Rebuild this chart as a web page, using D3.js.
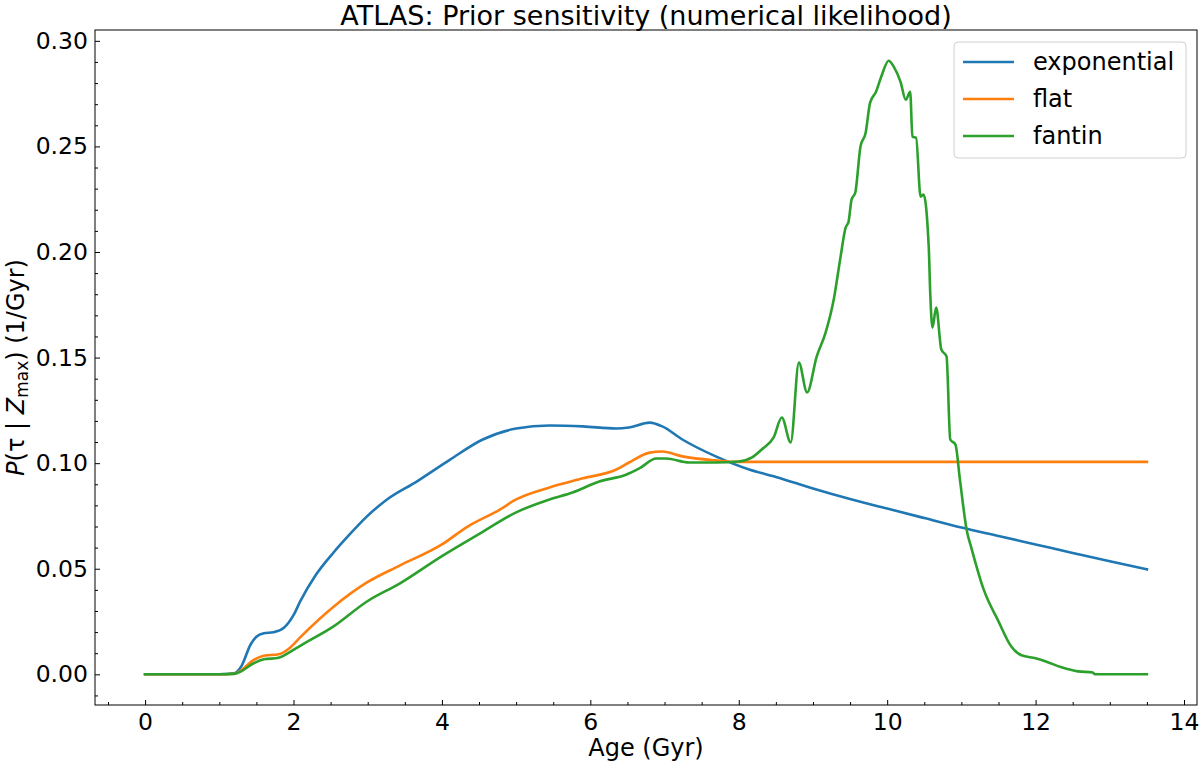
<!DOCTYPE html>
<html>
<head>
    <meta charset="UTF-8">
    <title>ATLAS: Prior sensitivity</title>
    <script src="https://d3js.org/d3.v7.min.js"></script>
    <style>
        body { margin: 0; padding: 0; background: #fff; }
        svg { display: block; }
        text { font-family: "DejaVu Sans", sans-serif; fill: #000; }
        .tick line { stroke: #000; stroke-width: 1; }
    </style>
</head>
<body>
<svg width="1200" height="768"></svg>
<script>
    // ---- data ----
    const expAge = [0, 1.0, 1.2, 1.3, 1.42, 1.5, 1.6, 1.73, 1.87, 2.0, 2.09, 2.3, 2.54, 2.75, 2.99, 3.26, 3.66, 4.11, 4.55, 5.0, 5.45, 5.9, 6.35, 6.52, 6.8, 6.97, 7.24, 7.69, 8.14, 8.5, 9.0, 9.5, 10.0, 10.5, 11.0, 11.5, 12.0, 12.5, 13.0, 13.5];
    const expP   = [0, 0, 0.0005, 0.004, 0.014, 0.0178, 0.0194, 0.0199, 0.022, 0.028, 0.0345, 0.047, 0.0577, 0.066, 0.0748, 0.0828, 0.0913, 0.1017, 0.1112, 0.1164, 0.1178, 0.1174, 0.1164, 0.1169, 0.1192, 0.1174, 0.1112, 0.1032, 0.097, 0.0935, 0.088, 0.083, 0.0785, 0.074, 0.0695, 0.0655, 0.0615, 0.0575, 0.0535, 0.0497];

    const flatAge = [0, 1.0, 1.2, 1.3, 1.45, 1.6, 1.8, 1.95, 2.09, 2.54, 2.99, 3.43, 4.0, 4.33, 4.78, 5.0, 5.45, 5.9, 6.35, 6.52, 6.8, 6.97, 7.24, 7.69, 8.0, 13.5];
    const flatP   = [0, 0, 0.0003, 0.002, 0.0065, 0.0088, 0.0095, 0.0125, 0.0175, 0.032, 0.0435, 0.0515, 0.0615, 0.0696, 0.078, 0.0828, 0.0885, 0.0928, 0.097, 0.1003, 0.105, 0.1055, 0.1032, 0.1013, 0.1006, 0.1006];

    const fantinAge = [0, 1.0, 1.2, 1.3, 1.45, 1.6, 1.8, 1.95, 2.09, 2.54, 2.99, 3.43, 4.0, 4.55, 5.0, 5.45, 5.76, 6.12, 6.48, 6.66, 6.89, 7.02, 7.33, 7.69, 8.0, 8.18, 8.31, 8.47, 8.58, 8.70, 8.81, 8.92, 9.05, 9.17, 9.28, 9.37, 9.44, 9.48, 9.52, 9.57, 9.64, 9.71, 9.77, 9.85, 9.92, 10.02, 10.09, 10.18, 10.25, 10.31, 10.34, 10.39, 10.45, 10.49, 10.56, 10.58, 10.61, 10.66, 10.73, 10.80, 10.85, 10.92, 10.98, 11.07, 11.14, 11.3, 11.5, 11.67, 11.81, 12.0, 12.13, 12.35, 12.57, 12.77, 12.8, 13.5];
    const fantinP   = [0, 0, 0.0002, 0.0015, 0.005, 0.0071, 0.0078, 0.0105, 0.0135, 0.0227, 0.0345, 0.043, 0.056, 0.0675, 0.0767, 0.0828, 0.0861, 0.0913, 0.0945, 0.0975, 0.1022, 0.1022, 0.1003, 0.1003, 0.1008, 0.1027, 0.1065, 0.1122, 0.1216, 0.1098, 0.1476, 0.1335, 0.1505, 0.1618, 0.1775, 0.1973, 0.2115, 0.2144, 0.2248, 0.2281, 0.2499, 0.2565, 0.2707, 0.2759, 0.283, 0.2906, 0.2877, 0.2806, 0.2721, 0.2759, 0.2546, 0.2541, 0.2262, 0.2272, 0.2025, 0.1808, 0.1642, 0.1737, 0.1538, 0.1505, 0.1112, 0.1088, 0.0923, 0.0686, 0.0592, 0.0402, 0.0251, 0.0133, 0.009, 0.0076, 0.0062, 0.0033, 0.0014, 0.0009, 0, 0];

    const seriesNames = ["exponential", "flat", "fantin"];
    const seriesColors = ["#1f77b4", "#ff7f0e", "#2ca02c"];
    const xTicks = [0, 2, 4, 6, 8, 10, 12, 14];
    const yTicks = [0, 0.05, 0.10, 0.15, 0.20, 0.25, 0.30];

    // ---- layout ----
    const margin = {left: 95, top: 30, right: 3, bottom: 63};
    const width = 1200, height = 768;
    const fontBase = 23.5;
    const svg = d3.select("svg");

    const x = d3.scaleLinear().domain([-0.675, 14.175]).range([margin.left, width - margin.right]);
    const y = d3.scaleLinear().domain([-0.01453, 0.30513]).range([height - margin.bottom, margin.top]);

    const series = [
        {name: seriesNames[0], color: seriesColors[0], pts: expAge.map((a, i) => [a, expP[i]])},
        {name: seriesNames[1], color: seriesColors[1], pts: flatAge.map((a, i) => [a, flatP[i]])},
        {name: seriesNames[2], color: seriesColors[2], pts: fantinAge.map((a, i) => [a, fantinP[i]])}
    ];

    // clip to axes
    svg.append("clipPath").attr("id", "clip")
        .append("rect")
        .attr("x", margin.left).attr("y", margin.top)
        .attr("width", width - margin.left - margin.right)
        .attr("height", height - margin.top - margin.bottom);

    const line = d3.line()
        .x(d => x(d[0]))
        .y(d => y(d[1]))
        .curve(d3.curveMonotoneX);

    svg.append("g").attr("clip-path", "url(#clip)")
        .selectAll("path")
        .data(series)
        .enter().append("path")
        .attr("d", d => line(d.pts))
        .attr("fill", "none")
        .attr("stroke", d => d.color)
        .attr("stroke-width", 2.6)
        .attr("stroke-linejoin", "round")
        .attr("stroke-linecap", "square");

    // axes: ticks point inward
    const xAxis = svg.append("g")
        .attr("transform", `translate(0,${height - margin.bottom})`)
        .call(d3.axisBottom(x).tickValues(xTicks).tickSize(-5).tickPadding(8).tickFormat(d3.format("d")));
    const xMinor = svg.append("g")
        .attr("transform", `translate(0,${height - margin.bottom})`)
        .call(d3.axisBottom(x).tickValues(d3.range(-0.5, 14.1, 0.5).filter(v => v % 2 !== 0)).tickSize(-3).tickFormat(""));

    const yAxis = svg.append("g")
        .attr("transform", `translate(${margin.left},0)`)
        .call(d3.axisLeft(y).tickValues(yTicks).tickSize(-5).tickPadding(7).tickFormat(d3.format(".2f")));
    const yMinor = svg.append("g")
        .attr("transform", `translate(${margin.left},0)`)
        .call(d3.axisLeft(y).tickValues(d3.range(-0.01, 0.305, 0.01).filter(v => Math.abs(v * 20 - Math.round(v * 20)) > 1e-6)).tickSize(-3).tickFormat(""));

    [xAxis, xMinor, yAxis, yMinor].forEach(g => g.select(".domain").remove());
    svg.selectAll(".tick text").attr("font-family", "DejaVu Sans").attr("font-size", fontBase);

    // frame
    svg.append("rect")
        .attr("x", margin.left).attr("y", margin.top)
        .attr("width", width - margin.left - margin.right)
        .attr("height", height - margin.top - margin.bottom)
        .attr("fill", "none").attr("stroke", "#000").attr("stroke-width", 1);

    // title and labels
    const cx = (margin.left + width - margin.right) / 2;
    svg.append("text")
        .attr("x", cx).attr("y", 25)
        .attr("text-anchor", "middle")
        .attr("font-size", 27)
        .text("ATLAS: Prior sensitivity (numerical likelihood)");

    svg.append("text")
        .attr("x", cx).attr("y", 756)
        .attr("text-anchor", "middle")
        .attr("font-size", 24)
        .text("Age (Gyr)");

    const yl = svg.append("text")
        .attr("transform", `translate(24,${(margin.top + height - margin.bottom) / 2}) rotate(-90)`)
        .attr("text-anchor", "middle")
        .attr("font-size", 24);
    yl.append("tspan").attr("font-style", "italic").text("P");
    yl.append("tspan").text("(τ | ");
    yl.append("tspan").attr("font-style", "italic").text("Z");
    yl.append("tspan").attr("font-size", 17).attr("dy", 4).text("max");
    yl.append("tspan").attr("dy", -4).text(") (1/Gyr)");

    // legend
    const lg = svg.append("g").attr("transform", "translate(954,42)");
    lg.append("rect")
        .attr("width", 232).attr("height", 116)
        .attr("rx", 4)
        .attr("fill", "#fff").attr("fill-opacity", 0.8)
        .attr("stroke", "#d0d0d0");
    const item = lg.selectAll("g.item")
        .data(series)
        .enter().append("g")
        .attr("class", "item")
        .attr("transform", (d, i) => `translate(0,${20 + i * 37})`);
    item.append("line")
        .attr("x1", 9).attr("x2", 60)
        .attr("stroke", d => d.color).attr("stroke-width", 2.6);
    item.append("text")
        .attr("x", 79).attr("y", 8)
        .attr("font-size", 24)
        .text(d => d.name);
</script>
</body>
</html>
